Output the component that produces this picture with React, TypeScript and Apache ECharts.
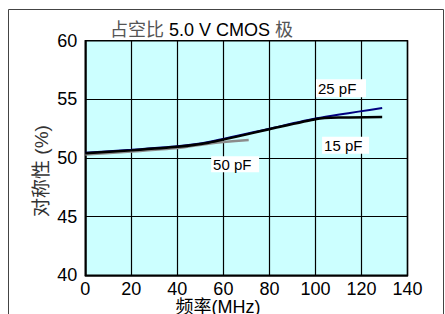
import React, { useEffect, useRef } from "react";
import * as echarts from "echarts";

const xTicks = [0, 20, 40, 60, 80, 100, 120, 140];
const yTicks = [40, 45, 50, 55, 60];

// 15 pF (black)
const freq15 = [0, 20, 40, 53.5, 80, 100.5, 110, 129];
const sym15 = [50.4, 50.65, 50.95, 51.3, 52.45, 53.33, 53.45, 53.5];
// 25 pF (navy)
const freq25 = [0, 20, 40, 53.5, 80, 100.5, 129];
const sym25 = [50.45, 50.7, 51.0, 51.36, 52.5, 53.38, 54.26];
// 50 pF (gray)
const freq50 = [0, 20, 40, 53.5, 60, 71];
const sym50 = [50.3, 50.55, 50.85, 51.22, 51.36, 51.53];

const labelNames = ["25 pF", "15 pF", "50 pF"];
const labelAt = [
  [111.1, 55.94],
  [113.1, 51.08],
  [65.1, 49.46],
];
const labelBox = [
  [50, 18],
  [47, 17],
  [48, 16],
];

const FONT = "Arial, 'Liberation Sans', 'Noto Sans CJK SC', sans-serif";

function pairs(xs: number[], ys: number[]) {
  return xs.map((x, i) => [x, ys[i]]);
}

function mark(i: number) {
  return {
    symbol: "rect",
    symbolSize: labelBox[i],
    silent: true,
    itemStyle: { color: "#ffffff" },
    label: {
      show: true,
      position: "insideLeft",
      distance: 2,
      formatter: labelNames[i],
      color: "#000",
      fontSize: 15,
      fontFamily: FONT,
    },
    data: [{ coord: labelAt[i] }],
  };
}

export default function App() {
  const ref = useRef<HTMLDivElement>(null);
  useEffect(() => {
    if (!ref.current) return;
    const chart = echarts.init(ref.current, undefined, { renderer: "svg" });
    chart.setOption({
      animation: false,
      backgroundColor: "#ffffff",
      title: {
        left: 105,
        top: 16,
        text: "{a|占空比 }{b|5.0 V CMOS}{a| 极}",
        textStyle: {
          fontWeight: "normal",
          rich: {
            a: { fontSize: 18, color: "#555", fontFamily: FONT, fontWeight: "normal" },
            b: { fontSize: 18, color: "#000", fontFamily: FONT, fontWeight: "normal" },
          },
        },
      },
      grid: {
        left: 85.3,
        top: 40.7,
        right: 37.5,
        bottom: 38.7,
        show: true,
        backgroundColor: "#ccffff",
        borderColor: "#000",
        borderWidth: 1.5,
      },
      xAxis: {
        type: "value",
        min: xTicks[0],
        max: xTicks[xTicks.length - 1],
        interval: 20,
        axisLine: { show: true, lineStyle: { color: "#000", width: 1.5 } },
        axisTick: { show: false },
        splitLine: { show: true, lineStyle: { color: "#000", width: 1.2 } },
        axisLabel: { color: "#000", fontSize: 18, fontFamily: FONT, margin: 5 },
      },
      yAxis: {
        type: "value",
        min: yTicks[0],
        max: yTicks[yTicks.length - 1],
        interval: 5,
        axisLine: { show: true, lineStyle: { color: "#000", width: 1.5 } },
        axisTick: { show: false },
        splitLine: { show: true, lineStyle: { color: "#000", width: 1.2 } },
        axisLabel: { color: "#000", fontSize: 18, fontFamily: FONT, margin: 8 },
      },
      series: [
        {
          type: "line",
          name: "50 pF",
          data: pairs(freq50, sym50),
          showSymbol: false,
          smooth: 0.2,
          lineStyle: { color: "#8c8c8c", width: 2.5 },
          z: 2,
          markPoint: mark(2),
        },
        {
          type: "line",
          name: "25 pF",
          data: pairs(freq25, sym25),
          showSymbol: false,
          smooth: 0.2,
          lineStyle: { color: "#000080", width: 2 },
          z: 3,
          markPoint: mark(0),
        },
        {
          type: "line",
          name: "15 pF",
          data: pairs(freq15, sym15),
          showSymbol: false,
          smooth: 0.2,
          lineStyle: { color: "#000", width: 2.5 },
          z: 4,
          markPoint: mark(1),
        },
      ],
      graphic: [
        {
          type: "rect",
          shape: { x: 8.5, y: 9.5, width: 435, height: 330 },
          style: { fill: "none", stroke: "#444", lineWidth: 1 },
          silent: true,
          z: -1,
        },
        {
          type: "text",
          x: 41,
          y: 171,
          rotation: Math.PI / 2,
          style: {
            text: "对称性 (%)",
            fontSize: 19,
            fontFamily: FONT,
            fill: "#333",
            align: "center",
            verticalAlign: "middle",
          },
        },
        {
          type: "text",
          x: 218,
          y: 307,
          style: {
            text: "频率(MHz)",
            fontSize: 18,
            fontFamily: FONT,
            fill: "#000",
            align: "center",
            verticalAlign: "middle",
          },
        },
      ],
    });
    return () => chart.dispose();
  }, []);
  return (
    <div
      ref={ref}
      style={{ position: "absolute", left: 0, top: 0, width: 445, height: 314 }}
    />
  );
}
